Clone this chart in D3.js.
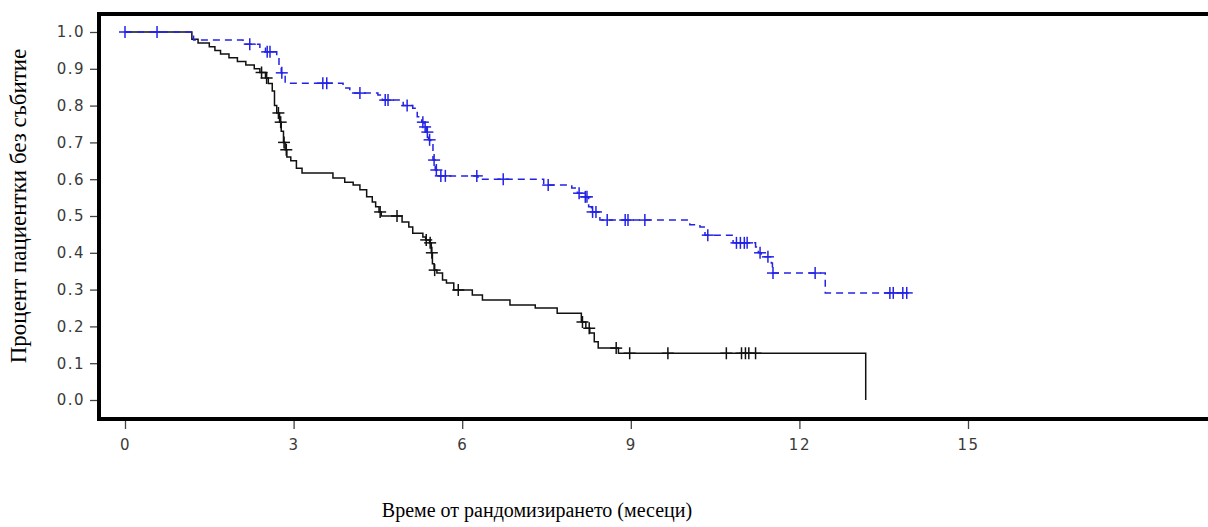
<!DOCTYPE html>
<html>
<head>
<meta charset="utf-8">
<script src="https://cdn.jsdelivr.net/npm/d3@7"></script>
<style>
  body { margin: 0; background: #fff; }
  svg { display: block; }
</style>
</head>
<body>
<div id="chart"></div>
<script>
// Kaplan-Meier style curves.
// Black solid group: step times (months) and survival after each step.
const blackTimes = [0, 1.19, 1.30, 1.50, 1.60, 1.70, 1.85, 2.00, 2.15, 2.30, 2.40, 2.50, 2.55, 2.62, 2.66, 2.70, 2.75, 2.78, 2.82, 2.85, 2.88, 2.95, 3.05, 3.15, 3.70, 3.91, 4.06, 4.18, 4.30, 4.40, 4.46, 4.52, 4.56, 4.93, 5.05, 5.12, 5.30, 5.35, 5.42, 5.45, 5.47, 5.50, 5.55, 5.65, 5.72, 5.85, 6.18, 6.36, 6.85, 7.30, 7.69, 8.12, 8.20, 8.27, 8.35, 8.42, 8.78, 13.18];
const blackSurv  = [1.0, 0.980, 0.970, 0.960, 0.950, 0.940, 0.930, 0.920, 0.910, 0.900, 0.890, 0.875, 0.860, 0.840, 0.800, 0.780, 0.755, 0.730, 0.700, 0.680, 0.660, 0.650, 0.630, 0.617, 0.603, 0.592, 0.584, 0.571, 0.552, 0.538, 0.525, 0.511, 0.500, 0.484, 0.470, 0.453, 0.443, 0.435, 0.427, 0.400, 0.370, 0.353, 0.345, 0.326, 0.318, 0.299, 0.285, 0.272, 0.258, 0.250, 0.236, 0.212, 0.195, 0.182, 0.158, 0.141, 0.127, 0.0];
const blackCensor = [2.43, 2.52, 2.73, 2.77, 2.83, 2.87, 4.54, 4.84, 5.36, 5.43, 5.46, 5.51, 5.93, 8.14, 8.26, 8.74, 8.98, 9.66, 10.70, 10.97, 11.04, 11.10, 11.22];

// Blue dashed group.
const blueTimes = [0, 1.22, 2.10, 2.40, 2.50, 2.70, 2.74, 2.78, 2.85, 3.88, 4.00, 4.50, 4.58, 4.95, 5.12, 5.20, 5.28, 5.32, 5.36, 5.40, 5.44, 5.48, 5.52, 5.57, 6.28, 7.45, 7.95, 8.05, 8.15, 8.25, 8.30, 8.45, 10.05, 10.23, 10.32, 10.82, 11.22, 11.27, 11.32, 11.50, 11.52, 12.46, 13.91];
const blueSurv  = [1.0, 0.978, 0.967, 0.956, 0.946, 0.935, 0.910, 0.889, 0.861, 0.848, 0.834, 0.829, 0.815, 0.800, 0.793, 0.770, 0.755, 0.742, 0.728, 0.707, 0.698, 0.652, 0.625, 0.609, 0.600, 0.584, 0.576, 0.562, 0.552, 0.525, 0.511, 0.489, 0.476, 0.470, 0.448, 0.427, 0.416, 0.400, 0.389, 0.372, 0.345, 0.291, 0.291];
const blueCensor = [0, 0.57, 2.22, 2.53, 2.58, 2.79, 3.52, 3.59, 4.18, 4.63, 4.68, 5.02, 5.30, 5.34, 5.38, 5.42, 5.50, 5.54, 5.62, 5.70, 6.26, 6.73, 7.53, 8.08, 8.19, 8.22, 8.32, 8.38, 8.58, 8.90, 8.95, 9.25, 10.37, 10.88, 10.95, 11.02, 11.07, 11.30, 11.44, 11.53, 12.28, 13.61, 13.67, 13.84, 13.91];

const xTicks = [0, 3, 6, 9, 12, 15];
const yTicks = [0, 0.1, 0.2, 0.3, 0.4, 0.5, 0.6, 0.7, 0.8, 0.9, 1.0];

const width = 1208, height = 527;

// Scales: month 0 at x=125, 15 at x=968; survival 0 at y=400, 1 at y=32.
const x = d3.scaleLinear().domain([0, 15]).range([125, 968]);
const y = d3.scaleLinear().domain([0, 1]).range([400, 32]);

const svg = d3.select("#chart").append("svg")
  .attr("width", width)
  .attr("height", height);

// Frame (right side runs off the page).
svg.append("rect")
  .attr("x", 99).attr("y", 14)
  .attr("width", 1130).attr("height", 405)
  .attr("fill", "none")
  .attr("stroke", "#000")
  .attr("stroke-width", 4);

// Axes sit outside the frame.
const yAxis = d3.axisLeft(y).tickValues(yTicks).tickFormat(d3.format(".1f")).tickSize(7).tickPadding(5);
svg.append("g")
  .attr("transform", "translate(97,0)")
  .call(yAxis)
  .call(g => g.select(".domain").remove());

const xAxis = d3.axisBottom(x).tickValues(xTicks).tickFormat(d3.format("d")).tickSize(8).tickPadding(10);
svg.append("g")
  .attr("transform", "translate(0,421)")
  .call(xAxis)
  .call(g => g.select(".domain").remove());

svg.selectAll(".tick line").attr("stroke", "#444").attr("stroke-width", 1.3);
svg.selectAll(".tick text")
  .attr("fill", "#3a3a3a")
  .style("font-family", "'DejaVu Sans', sans-serif")
  .style("font-size", "15px")
  .style("letter-spacing", "1.5px");

// Step line builder.
function steps(times, surv) {
  return times.map((t, i) => [t, surv[i]]);
}
const stepLine = d3.line()
  .x(d => x(d[0]))
  .y(d => y(d[1]))
  .curve(d3.curveStepAfter);

// Value of the curve at time t.
function valueAt(times, surv, t) {
  let v = surv[0];
  for (let i = 0; i < times.length; i++) {
    if (times[i] <= t) v = surv[i];
  }
  return v;
}

function drawGroup(times, surv, censor, color, dash) {
  svg.append("path")
    .datum(steps(times, surv))
    .attr("d", stepLine)
    .attr("fill", "none")
    .attr("stroke", color)
    .attr("stroke-width", 1.5)
    .attr("stroke-dasharray", dash);

  // censor marks: small crosses on the curve
  const g = svg.append("g");
  censor.forEach(t => {
    const cx = x(t), cy = y(valueAt(times, surv, t));
    g.append("line")
      .attr("x1", cx - 6).attr("x2", cx + 6)
      .attr("y1", cy).attr("y2", cy)
      .attr("stroke", color).attr("stroke-width", 1.5);
    g.append("line")
      .attr("x1", cx).attr("x2", cx)
      .attr("y1", cy - 6).attr("y2", cy + 6)
      .attr("stroke", color).attr("stroke-width", 1.5);
  });
}

drawGroup(blackTimes, blackSurv, blackCensor, "#111", null);
drawGroup(blueTimes, blueSurv, blueCensor, "#2323e6", "7,5");

// Axis titles.
svg.append("text")
  .attr("transform", "translate(26,206) rotate(-90)")
  .attr("text-anchor", "middle")
  .style("font-family", "'Liberation Serif', 'Times New Roman', serif")
  .style("font-size", "23px")
  .text("Процент пациентки без събитие");

svg.append("text")
  .attr("x", 537).attr("y", 517)
  .attr("text-anchor", "middle")
  .style("font-family", "'Liberation Serif', 'Times New Roman', serif")
  .style("font-size", "20px")
  .text("Време от рандомизирането (месеци)");
</script>
</body>
</html>
